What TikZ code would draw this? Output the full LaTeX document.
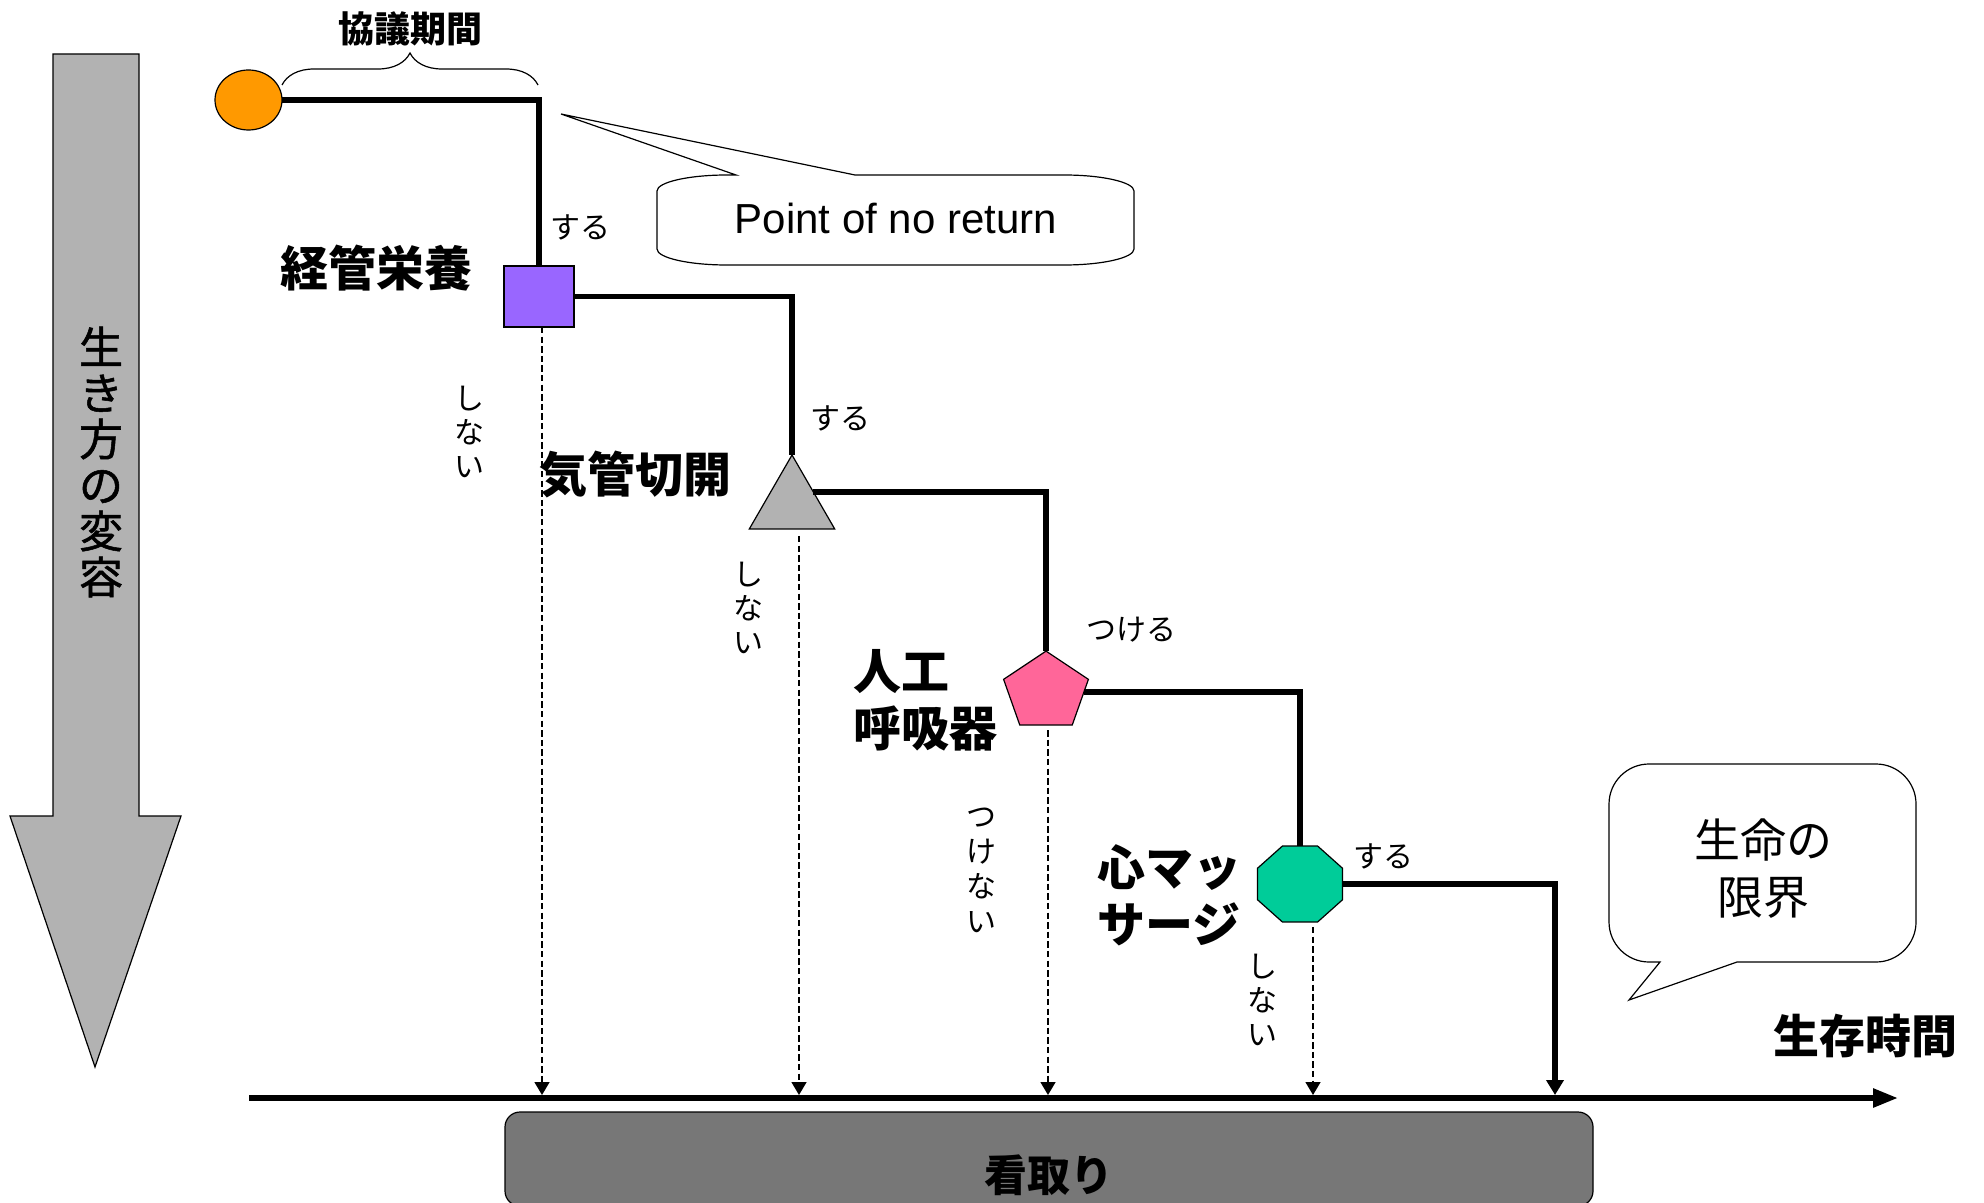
\documentclass[tikz,border=0pt]{standalone}
\usepackage{fontspec}
\setmainfont{Noto Sans CJK JP}
\newfontfamily\latinfont{Liberation Sans}
\newfontfamily\jpmed[FakeBold=1.2]{Noto Sans CJK JP}
\usetikzlibrary{arrows.meta,shapes.geometric,decorations.pathreplacing,calc}
\definecolor{corange}{HTML}{FF9900}
\definecolor{cpurple}{HTML}{9966FF}
\definecolor{cgray}{HTML}{B2B2B2}
\definecolor{cpink}{HTML}{FF6699}
\definecolor{cgreen}{HTML}{00CC99}
\definecolor{cdark}{HTML}{777777}
\begin{document}
\begin{tikzpicture}[x=0.5pt,y=-0.5pt,
  stepline/.style={line width=2.6pt},
  axisline/.style={line width=2.8pt,-{Triangle[length=12.5pt,width=9pt]}},
  dasharr/.style={line width=0.75pt,dash pattern=on 3.2pt off 1.6pt,-{Triangle[length=6.5pt,width=7.5pt]}},
  shapebox/.style={draw,line width=0.6pt,inner sep=0pt,outer sep=0pt},
  lbl/.style={inner sep=0pt,font=\fontsize{15}{17.5}\selectfont},
  vlbl/.style={inner sep=0pt,align=center,font=\fontsize{15}{17}\selectfont},
  biglbl/.style={inner sep=0pt,align=left,font=\fontsize{24}{28.5}\selectfont\bfseries},
  outline/.style={draw,line width=0.6pt}]
\useasboundingbox (0,0) rectangle (1984,1203);
\clip (0,0) rectangle (1984,1203);

% big down arrow
\draw[outline,fill=cgray] (53,54) -- (139,54) -- (139,816) -- (181,816) -- (95,1067) -- (10,816) -- (53,816) -- cycle;
\node[inner sep=0pt,align=center,font=\jpmed\fontsize{22}{23}\selectfont] (life) at (101,462) {生\\き\\方\\の\\変\\容};

% shapes
\node[shapebox,ellipse,fill=corange,minimum width=33.5pt,minimum height=30pt] (start) at (248.5,100) {};
\node[shapebox,rectangle,fill=cpurple,minimum width=35pt,minimum height=30.5pt] (tube) at (539,296.5) {};
\node[shapebox,regular polygon,regular polygon sides=3,fill=cgray,minimum size=49.3pt] (trach) at (792,504.3) {};
\node[shapebox,regular polygon,regular polygon sides=5,fill=cpink,minimum size=40.9pt,xscale=1.09] (vent) at (1046,692) {};
\node[shapebox,regular polygon,regular polygon sides=8,fill=cgreen,minimum size=41.1pt,xscale=1.12] (cpr) at (1300,884) {};

% axis end points
\coordinate (axs) at (249,1098);
\coordinate (axe) at (1898,1098);
\coordinate (t1) at (542,1095);
\coordinate (t2) at (799,1095);
\coordinate (t3) at (1048,1095);
\coordinate (t4) at (1313,1095);
\coordinate (t5) at (1555,1095);

% step connectors
\draw[stepline] (start.east) -| (tube.north);
\draw[stepline] (tube.east) -| (trach.north);
\draw[stepline] (trach.side 3) -| (vent.north);
\draw[stepline] (vent.east) -| (cpr.north);
\draw[stepline,-{Triangle[length=7.5pt,width=8.5pt]}] (cpr.east) -| (t5);

% dashed connectors
\draw[dasharr] ([xshift=1.5pt]tube.south) -- (t1);
\draw[dasharr] ([xshift=3.5pt,yshift=-3.5pt]trach.south) -- (t2);
\draw[dasharr] ([xshift=1pt,yshift=-2.5pt]vent.south) -- (t3);
\draw[dasharr] ([xshift=6.5pt,yshift=-2.5pt]cpr.south) -- (t4);

% axis
\draw[axisline] (axs) -- (axe);

% brace
\draw[line width=0.6pt,decorate,decoration={brace,amplitude=16pt}] (282,85) -- (538,85);
\node[inner sep=0pt,font=\fontsize{18}{20}\selectfont\bfseries] (period) at (410,29) {協議期間};

% labels
\node[lbl] (s1) at (580,227) {する};
\node[biglbl] (l1) at (376,268) {経管栄養};
\node[vlbl] (n1) at (469,432) {し\\な\\い};
\node[lbl] (s2) at (840,418) {する};
\node[biglbl] (l2) at (635,474) {気管切開};
\node[vlbl] (n2) at (748,608) {し\\な\\い};
\node[lbl] (s3) at (1131,630) {つける};
\node[biglbl,anchor=west] (l3) at (853,700) {人工\\呼吸器};
\node[vlbl,font=\fontsize{15}{17.5}\selectfont] (n3) at (981,870) {つ\\け\\な\\い};
\node[biglbl,anchor=west] (l4) at (1097,895) {心マッ\\サージ};
\node[lbl] (s4) at (1383,856) {する};
\node[vlbl] (n4) at (1262,1000) {し\\な\\い};
\node[inner sep=0pt,font=\fontsize{23}{25}\selectfont\bfseries] (surv) at (1865,1036) {生存時間};

% callout: point of no return
\draw[outline,fill=white] (736,175) -- (561,114) -- (855,175) -- (1064,175)
  .. controls (1102.6,175) and (1134,182.2) .. (1134,191) -- (1134,249)
  .. controls (1134,257.8) and (1102.6,265) .. (1064,265) -- (727,265)
  .. controls (688.4,265) and (657,257.8) .. (657,249) -- (657,191)
  .. controls (657,182.2) and (688.4,175) .. (727,175) -- cycle;
\node[inner sep=0pt,font=\latinfont\fontsize{21}{24}\selectfont] (ponr) at (896,218) {Point of no return};

% callout: limit of life
\draw[outline,fill=white] (1737,962) -- (1629,1000) -- (1660,962) -- (1649,962)
  .. controls (1627,962) and (1609,944) .. (1609,922) -- (1609,804)
  .. controls (1609,782) and (1627,764) .. (1649,764) -- (1876,764)
  .. controls (1898,764) and (1916,782) .. (1916,804) -- (1916,922)
  .. controls (1916,944) and (1898,962) .. (1876,962) -- cycle;
\node[inner sep=0pt,align=center,font=\fontsize{23}{28.5}\selectfont] (limit) at (1763,869) {生命の\\限界};

% bottom box
\draw[outline,fill=cdark,rounded corners=7.5pt] (505,1112) rectangle (1593,1206);
\node[inner sep=0pt,font=\fontsize{21.5}{24}\selectfont\bfseries] (mitori) at (1049,1175) {看取り};
\end{tikzpicture}
\end{document}
